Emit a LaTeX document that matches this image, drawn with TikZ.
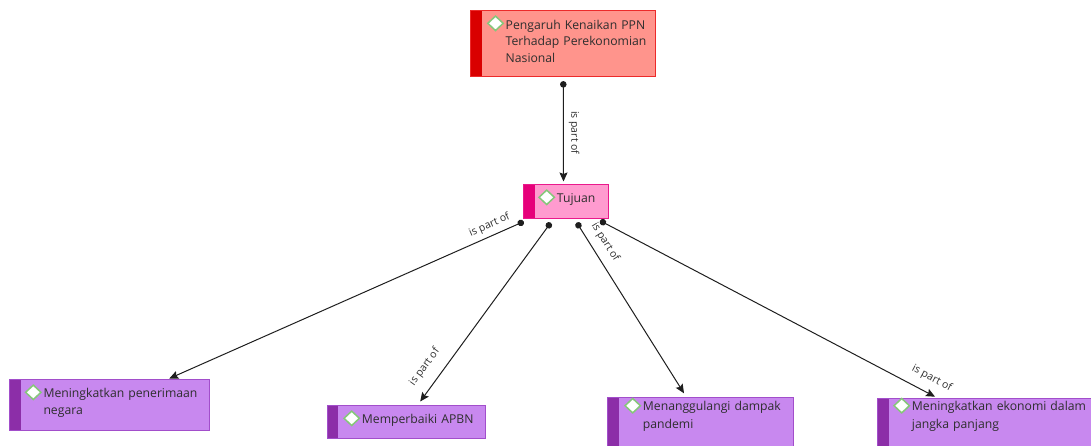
\documentclass[tikz,border=0pt]{standalone}
\usepackage{fontspec}
\setmainfont{Open Sans}
\usetikzlibrary{arrows.meta,calc,shapes.geometric}
\definecolor{txtc}{HTML}{2E2E2E}
\definecolor{linec}{HTML}{1E1E1E}
\definecolor{redfill}{HTML}{FF948C}
\definecolor{redline}{HTML}{EC2A2A}
\definecolor{redbar}{HTML}{D90000}
\definecolor{pinkfill}{HTML}{FF9BCF}
\definecolor{pinkline}{HTML}{EA1A8C}
\definecolor{pinkbar}{HTML}{E6007A}
\definecolor{purfill}{HTML}{C888EF}
\definecolor{purline}{HTML}{A24ECB}
\definecolor{purbar}{HTML}{8C2EA8}
\definecolor{diagreen}{HTML}{86C77A}
\begin{document}
\begin{tikzpicture}[x=1pt,y=-1pt,
  box/.style n args={3}{rectangle, draw=#2, fill=#1, line width=1.1pt,
    anchor=north west, inner sep=0pt,
    path picture={\fill[#3] (path picture bounding box.north west) rectangle
      ([xshift=11pt]path picture bounding box.south west);}},
  redbox/.style={box={redfill}{redline}{redbar}},
  pinkbox/.style={box={pinkfill}{pinkline}{pinkbar}},
  purbox/.style={box={purfill}{purline}{purbar}},
  txt/.style={anchor=base west, inner sep=0pt, text width=#1, align=left,
    text=txtc, font=\fontsize{12.2}{17.5}\selectfont},
  dia/.style={diamond, draw=diagreen, fill=white, line width=1.5pt,
    minimum width=16pt, minimum height=15pt, inner sep=0pt},
  conn/.style={draw=linec, line width=1pt, shorten <=-3pt,
    {Circle[length=6.5pt]}-{Stealth[length=9pt,width=8pt,inset=1.5pt]}},
  lab/.style={font=\fontsize{10.5}{12}\selectfont, text=txtc, inner sep=0pt}]
\useasboundingbox (0,0) rectangle (1091,445);
\clip (0,0) rectangle (1091,445);

% boxes
\node[redbox, minimum width=185pt, minimum height=66pt] (top) at (470,10) {};
\node[txt=150pt, font=\fontsize{12.2}{16.6}\selectfont] (ttop) at ($(top.north west)+(35.5,19.3)$)
  {Pengaruh Kenaikan PPN\\Terhadap Perekonomian\\Nasional};
\node[dia] (dtop) at ($(ttop.base west)+(-10,-6)$) {};

\node[pinkbox, minimum width=84.4pt, minimum height=33.4pt] (tuj) at (523.3,184.3) {};
\node[txt=50pt] (ttuj) at ($(tuj.north west)+(33.4,18)$) {Tujuan};
\node[dia] (dtuj) at ($(ttuj.base west)+(-10,-5)$) {};

\node[purbox, minimum width=200pt, minimum height=50.7pt] (b1) at (9.3,379.3) {};
\node[txt=170pt] (tb1) at ($(b1.north west)+(34,18)$) {Meningkatkan penerimaan\\negara};
\node[dia] (db1) at ($(tb1.base west)+(-10,-5)$) {};

\node[purbox, minimum width=158.3pt, minimum height=33.3pt] (b2) at (326.7,405) {};
\node[txt=130pt] (tb2) at ($(b2.north west)+(35,18.3)$) {Memperbaiki APBN};
\node[dia] (db2) at ($(tb2.base west)+(-10,-5)$) {};

\node[purbox, minimum width=186pt, minimum height=52pt] (b3) at (607.3,396.7) {};
\node[txt=160pt] (tb3) at ($(b3.north west)+(35.4,14)$) {Menanggulangi dampak\\pandemi};
\node[dia] (db3) at ($(tb3.base west)+(-10,-5)$) {};

\node[purbox, minimum width=220pt, minimum height=52pt] (b4) at (877.3,398.3) {};
\node[txt=180pt] (tb4) at ($(b4.north west)+(34.4,12.4)$) {Meningkatkan ekonomi dalam\\jangka panjang};
\node[dia] (db4) at ($(tb4.base west)+(-10,-5)$) {};

% connector end points
\coordinate (s0) at ($(top.south west)+(93.3,7)$);
\coordinate (e0) at ($(tuj.north west)+(40.2,-2.8)$);
\coordinate (s1) at ($(tuj.south west)+(-2.3,4)$);
\coordinate (s2) at ($(tuj.south west)+(25.7,6.3)$);
\coordinate (s3) at ($(tuj.south west)+(55,6.3)$);
\coordinate (s4) at ($(tuj.south west)+(79.4,3.3)$);
\coordinate (e1) at ($(b1.north west)+(160,-0.8)$);
\coordinate (e2) at ($(b2.north west)+(93.5,-3.5)$);
\coordinate (e3) at ($(b3.north west)+(76.7,-3.4)$);
\coordinate (e4) at ($(b4.north west)+(57.7,-1.6)$);

% connectors
\draw[conn] (s0) -- (e0) node[lab, midway, rotate=-90, anchor=south, yshift=5pt] (l0) {is part of};
\draw[conn] (s1) -- (e1) node[lab, pos=0.077, sloped, anchor=south, yshift=5pt] (l1) {is part of};
\draw[conn] (s2) -- (e2) node[lab, pos=0.86, sloped, anchor=south, yshift=11pt] (l2) {is part of};
\draw[conn] (s3) -- (e3) node[lab, pos=0.145, sloped, anchor=south, yshift=8pt] (l3) {is part of};
\draw[conn] (s4) -- (e4) node[lab, pos=0.97, sloped, anchor=south, yshift=9pt] (l4) {is part of};
\end{tikzpicture}
\end{document}
